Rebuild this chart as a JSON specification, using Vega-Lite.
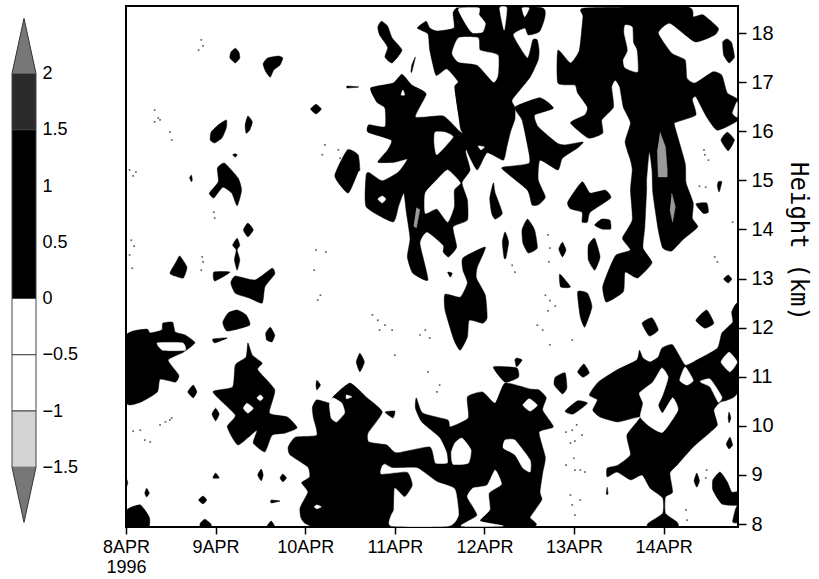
{"$schema":"https://vega.github.io/schema/vega-lite/v6.json","padding":{"left":10,"top":5,"right":0,"bottom":0},"autosize":{"type":"pad"},"background":"white","bounds":"flush","spacing":90,"config":{"view":{"stroke":null}},
"datasets":{
"black":[
{"b":1,"t":1.22,"h":17.69},{"b":1,"t":1.26,"h":17.61},{"b":1,"t":1.27,"h":17.49},{"b":1,"t":1.22,"h":17.39},{"b":1,"t":1.16,"h":17.49},{"b":1,"t":1.17,"h":17.61},
{"b":2,"t":1.53,"h":17.37},{"b":2,"t":1.58,"h":17.49},{"b":2,"t":1.70,"h":17.53},{"b":2,"t":1.75,"h":17.49},{"b":2,"t":1.72,"h":17.35},{"b":2,"t":1.65,"h":17.25},{"b":2,"t":1.61,"h":17.10},{"b":2,"t":1.56,"h":17.21},
{"b":3,"t":2.12,"h":16.55},{"b":3,"t":2.18,"h":16.45},{"b":3,"t":2.12,"h":16.35},{"b":3,"t":2.06,"h":16.45},
{"b":4,"t":1.12,"h":16.23},{"b":4,"t":1.12,"h":16.07},{"b":4,"t":1.07,"h":15.86},{"b":4,"t":0.99,"h":15.76},{"b":4,"t":0.94,"h":15.82},{"b":4,"t":0.95,"h":15.98},{"b":4,"t":1.03,"h":16.13},
{"b":5,"t":1.36,"h":16.31},{"b":5,"t":1.41,"h":16.19},{"b":5,"t":1.38,"h":16.02},{"b":5,"t":1.34,"h":15.96},{"b":5,"t":1.33,"h":16.13},
{"b":6,"t":2.85,"h":18.24},{"b":6,"t":2.92,"h":18.14},{"b":6,"t":2.97,"h":17.90},{"b":6,"t":3.08,"h":17.65},{"b":6,"t":2.97,"h":17.39},{"b":6,"t":2.89,"h":17.51},{"b":6,"t":2.92,"h":17.71},{"b":6,"t":2.83,"h":17.96},{"b":6,"t":2.81,"h":18.12},
{"b":7,"t":3.08,"h":17.16},{"b":7,"t":3.19,"h":16.94},{"b":7,"t":3.35,"h":16.76},{"b":7,"t":3.23,"h":16.29},{"b":7,"t":3.54,"h":16.31},{"b":7,"t":3.71,"h":16.02},{"b":7,"t":3.84,"h":15.82},{"b":7,"t":3.79,"h":15.58},{"b":7,"t":3.84,"h":15.21},{"b":7,"t":3.75,"h":14.95},{"b":7,"t":3.81,"h":14.60},{"b":7,"t":3.81,"h":14.19},{"b":7,"t":3.65,"h":14.05},{"b":7,"t":3.69,"h":13.64},{"b":7,"t":3.60,"h":13.44},{"b":7,"t":3.54,"h":13.54},{"b":7,"t":3.54,"h":13.68},{"b":7,"t":3.36,"h":13.95},{"b":7,"t":3.28,"h":13.72},{"b":7,"t":3.37,"h":12.97},{"b":7,"t":3.20,"h":13.11},{"b":7,"t":3.14,"h":13.44},{"b":7,"t":3.17,"h":13.82},{"b":7,"t":3.13,"h":14.33},{"b":7,"t":3.10,"h":14.74},{"b":7,"t":3.04,"h":14.46},{"b":7,"t":2.98,"h":14.15},{"b":7,"t":2.68,"h":14.46},{"b":7,"t":2.68,"h":15.11},{"b":7,"t":2.72,"h":15.15},{"b":7,"t":2.86,"h":14.99},{"b":7,"t":3.04,"h":15.17},{"b":7,"t":3.14,"h":15.43},{"b":7,"t":3.00,"h":15.37},{"b":7,"t":2.81,"h":15.37},{"b":7,"t":2.92,"h":15.62},{"b":7,"t":2.96,"h":15.82},{"b":7,"t":2.70,"h":15.98},{"b":7,"t":2.71,"h":16.13},{"b":7,"t":2.89,"h":16.09},{"b":7,"t":2.89,"h":16.47},{"b":7,"t":2.80,"h":16.59},{"b":7,"t":2.73,"h":16.88},{"b":7,"t":2.98,"h":16.98},
{"b":8,"t":3.71,"h":18.51},{"b":8,"t":3.65,"h":18.41},{"b":8,"t":3.66,"h":18.10},{"b":8,"t":3.47,"h":18.04},{"b":8,"t":3.39,"h":18.10},{"b":8,"t":3.35,"h":18.24},{"b":8,"t":3.25,"h":18.10},{"b":8,"t":3.37,"h":17.98},{"b":8,"t":3.39,"h":17.65},{"b":8,"t":3.46,"h":17.14},{"b":8,"t":3.58,"h":17.27},{"b":8,"t":3.71,"h":17.00},{"b":8,"t":3.67,"h":16.90},{"b":8,"t":3.71,"h":16.37},{"b":8,"t":3.75,"h":16.00},{"b":8,"t":3.95,"h":16.64},{"b":8,"t":3.95,"h":18.06},
{"b":9,"t":3.71,"h":18.51},{"b":9,"t":4.65,"h":18.51},{"b":9,"t":4.62,"h":18.04},{"b":9,"t":4.49,"h":17.96},{"b":9,"t":4.45,"h":18.10},{"b":9,"t":4.32,"h":17.96},{"b":9,"t":4.48,"h":17.49},{"b":9,"t":4.54,"h":17.86},{"b":9,"t":4.59,"h":17.86},{"b":9,"t":4.61,"h":17.65},{"b":9,"t":4.60,"h":17.45},{"b":9,"t":4.51,"h":17.10},{"b":9,"t":4.31,"h":16.64},{"b":9,"t":4.34,"h":16.49},{"b":9,"t":4.34,"h":16.25},{"b":9,"t":4.29,"h":15.98},{"b":9,"t":4.25,"h":15.68},{"b":9,"t":4.21,"h":15.41},{"b":9,"t":4.03,"h":15.56},{"b":9,"t":3.92,"h":15.21},{"b":9,"t":3.81,"h":15.58},{"b":9,"t":3.75,"h":16.00},{"b":9,"t":3.71,"h":16.37},{"b":9,"t":3.67,"h":16.90},{"b":9,"t":3.71,"h":17.00},{"b":9,"t":3.84,"h":17.45},{"b":9,"t":3.71,"h":18.06},
{"b":10,"t":4.34,"h":16.49},{"b":10,"t":4.62,"h":16.68},{"b":10,"t":4.77,"h":16.47},{"b":10,"t":4.56,"h":16.33},{"b":10,"t":4.60,"h":16.09},{"b":10,"t":4.81,"h":15.76},{"b":10,"t":4.90,"h":15.72},{"b":10,"t":5.10,"h":15.78},{"b":10,"t":5.04,"h":15.66},{"b":10,"t":4.87,"h":15.45},{"b":10,"t":4.82,"h":15.21},{"b":10,"t":4.62,"h":15.41},{"b":10,"t":4.60,"h":15.01},{"b":10,"t":4.68,"h":14.66},{"b":10,"t":4.60,"h":14.50},{"b":10,"t":4.53,"h":14.50},{"b":10,"t":4.48,"h":14.80},{"b":10,"t":4.21,"h":15.21},{"b":10,"t":4.21,"h":15.27},{"b":10,"t":4.50,"h":15.35},{"b":10,"t":4.48,"h":15.72},{"b":10,"t":4.42,"h":16.23},
{"b":11,"t":5.12,"h":18.51},{"b":11,"t":6.26,"h":18.53},{"b":11,"t":6.33,"h":18.33},{"b":11,"t":6.44,"h":18.37},{"b":11,"t":6.61,"h":18.10},{"b":11,"t":6.57,"h":17.96},{"b":11,"t":6.35,"h":17.82},{"b":11,"t":6.07,"h":18.20},{"b":11,"t":5.94,"h":18.00},{"b":11,"t":6.09,"h":17.59},{"b":11,"t":6.24,"h":17.45},{"b":11,"t":6.26,"h":17.08},{"b":11,"t":6.35,"h":16.98},{"b":11,"t":6.55,"h":17.21},{"b":11,"t":6.65,"h":17.14},{"b":11,"t":6.71,"h":16.78},{"b":11,"t":6.83,"h":16.64},{"b":11,"t":6.83,"h":16.23},{"b":11,"t":6.60,"h":16.02},{"b":11,"t":6.48,"h":16.29},{"b":11,"t":6.36,"h":16.70},{"b":11,"t":6.32,"h":16.64},{"b":11,"t":6.36,"h":16.33},{"b":11,"t":6.15,"h":16.19},{"b":11,"t":6.12,"h":16.13},{"b":11,"t":6.24,"h":15.35},{"b":11,"t":6.25,"h":14.95},{"b":11,"t":6.33,"h":14.54},{"b":11,"t":6.32,"h":14.23},{"b":11,"t":6.38,"h":14.05},{"b":11,"t":6.22,"h":13.80},{"b":11,"t":6.09,"h":13.56},{"b":11,"t":5.99,"h":13.62},{"b":11,"t":5.94,"h":13.99},{"b":11,"t":5.88,"h":14.74},{"b":11,"t":5.87,"h":15.21},{"b":11,"t":5.84,"h":15.58},{"b":11,"t":5.81,"h":15.01},{"b":11,"t":5.81,"h":14.80},{"b":11,"t":5.79,"h":14.05},{"b":11,"t":5.77,"h":13.62},{"b":11,"t":5.87,"h":13.32},{"b":11,"t":5.71,"h":13.01},{"b":11,"t":5.57,"h":13.13},{"b":11,"t":5.55,"h":12.73},{"b":11,"t":5.36,"h":12.52},{"b":11,"t":5.32,"h":12.83},{"b":11,"t":5.40,"h":13.23},{"b":11,"t":5.47,"h":13.48},{"b":11,"t":5.63,"h":13.58},{"b":11,"t":5.54,"h":13.82},{"b":11,"t":5.65,"h":14.19},{"b":11,"t":5.63,"h":14.80},{"b":11,"t":5.65,"h":15.21},{"b":11,"t":5.63,"h":15.41},{"b":11,"t":5.57,"h":15.78},{"b":11,"t":5.63,"h":16.17},{"b":11,"t":5.55,"h":16.49},{"b":11,"t":5.51,"h":16.90},{"b":11,"t":5.46,"h":17.04},{"b":11,"t":5.42,"h":16.90},{"b":11,"t":5.44,"h":16.49},{"b":11,"t":5.31,"h":16.23},{"b":11,"t":5.32,"h":15.96},{"b":11,"t":5.16,"h":15.86},{"b":11,"t":4.96,"h":16.17},{"b":11,"t":5.12,"h":16.33},{"b":11,"t":5.15,"h":16.49},{"b":11,"t":5.04,"h":16.78},{"b":11,"t":5.01,"h":16.94},{"b":11,"t":4.82,"h":16.98},{"b":11,"t":4.82,"h":17.65},{"b":11,"t":4.96,"h":17.39},{"b":11,"t":5.06,"h":17.65},{"b":11,"t":5.10,"h":18.33},
{"b":12,"t":6.71,"h":17.88},{"b":12,"t":6.76,"h":17.80},{"b":12,"t":6.79,"h":17.51},{"b":12,"t":6.73,"h":17.39},{"b":12,"t":6.67,"h":17.55},{"b":12,"t":6.66,"h":17.82},
{"b":13,"t":6.71,"h":15.98},{"b":13,"t":6.79,"h":15.82},{"b":13,"t":6.72,"h":15.60},{"b":13,"t":6.64,"h":15.82},
{"b":14,"t":6.61,"h":14.97},{"b":14,"t":6.65,"h":14.97},{"b":14,"t":6.62,"h":14.76},{"b":14,"t":6.60,"h":14.88},
{"b":15,"t":6.36,"h":14.52},{"b":15,"t":6.48,"h":14.54},{"b":15,"t":6.50,"h":14.35},{"b":15,"t":6.44,"h":14.33},
{"b":16,"t":4.93,"h":14.56},{"b":16,"t":5.09,"h":14.97},{"b":16,"t":5.18,"h":14.74},{"b":16,"t":5.35,"h":14.80},{"b":16,"t":5.41,"h":14.64},{"b":16,"t":5.18,"h":14.35},{"b":16,"t":5.15,"h":14.15},{"b":16,"t":5.09,"h":14.15},{"b":16,"t":5.09,"h":14.35},{"b":16,"t":4.96,"h":14.42},
{"b":17,"t":5.23,"h":14.09},{"b":17,"t":5.31,"h":14.21},{"b":17,"t":5.40,"h":14.19},{"b":17,"t":5.41,"h":14.01},{"b":17,"t":5.31,"h":14.01},
{"b":18,"t":4.42,"h":13.99},{"b":18,"t":4.48,"h":14.21},{"b":18,"t":4.56,"h":13.99},{"b":18,"t":4.59,"h":13.62},{"b":18,"t":4.49,"h":13.52},{"b":18,"t":4.43,"h":13.72},
{"b":19,"t":4.10,"h":14.95},{"b":19,"t":4.12,"h":14.74},{"b":19,"t":4.20,"h":14.33},{"b":19,"t":4.12,"h":14.21},{"b":19,"t":4.08,"h":14.33},{"b":19,"t":4.06,"h":14.64},
{"b":20,"t":4.23,"h":13.95},{"b":20,"t":4.27,"h":13.74},{"b":20,"t":4.24,"h":13.42},{"b":20,"t":4.22,"h":13.42},{"b":20,"t":4.20,"h":13.74},
{"b":21,"t":3.59,"h":13.13},{"b":21,"t":3.64,"h":13.11},{"b":21,"t":3.62,"h":13.03},
{"b":22,"t":4.87,"h":13.74},{"b":22,"t":4.91,"h":13.58},{"b":22,"t":4.87,"h":13.44},{"b":22,"t":4.83,"h":13.60},
{"b":23,"t":5.23,"h":13.82},{"b":23,"t":5.29,"h":13.44},{"b":23,"t":5.23,"h":13.17},{"b":23,"t":5.16,"h":13.38},{"b":23,"t":5.16,"h":13.68},
{"b":24,"t":4.84,"h":13.09},{"b":24,"t":4.96,"h":12.83},{"b":24,"t":4.85,"h":12.83},
{"b":25,"t":3.76,"h":13.42},{"b":25,"t":4.01,"h":13.64},{"b":25,"t":3.92,"h":13.23},{"b":25,"t":3.91,"h":13.01},{"b":25,"t":4.01,"h":12.66},{"b":25,"t":4.03,"h":12.20},{"b":25,"t":3.98,"h":12.09},{"b":25,"t":3.83,"h":12.15},{"b":25,"t":3.81,"h":11.81},{"b":25,"t":3.73,"h":11.54},{"b":25,"t":3.66,"h":11.75},{"b":25,"t":3.56,"h":12.36},{"b":25,"t":3.56,"h":12.68},{"b":25,"t":3.73,"h":12.62},{"b":25,"t":3.81,"h":12.91},{"b":25,"t":3.76,"h":13.17},
{"b":26,"t":5.04,"h":12.73},{"b":26,"t":5.15,"h":12.70},{"b":26,"t":5.20,"h":12.42},{"b":26,"t":5.12,"h":12.01},{"b":26,"t":5.07,"h":12.22},
{"b":27,"t":6.72,"h":13.07},{"b":27,"t":6.76,"h":12.99},{"b":27,"t":6.72,"h":12.91},{"b":27,"t":6.67,"h":12.99},
{"b":28,"t":5.76,"h":12.09},{"b":28,"t":5.87,"h":12.20},{"b":28,"t":5.94,"h":11.95},{"b":28,"t":5.84,"h":11.83},
{"b":29,"t":6.36,"h":12.15},{"b":29,"t":6.48,"h":12.36},{"b":29,"t":6.56,"h":12.09},{"b":29,"t":6.46,"h":11.99},
{"b":30,"t":6.83,"h":12.46},{"b":30,"t":6.76,"h":12.32},{"b":30,"t":6.77,"h":12.11},{"b":30,"t":6.65,"h":11.89},{"b":30,"t":6.60,"h":11.58},{"b":30,"t":6.37,"h":11.34},{"b":30,"t":6.24,"h":11.24},{"b":30,"t":6.10,"h":11.65},{"b":30,"t":5.98,"h":11.58},{"b":30,"t":5.94,"h":11.40},{"b":30,"t":5.85,"h":11.30},{"b":30,"t":5.77,"h":11.38},{"b":30,"t":5.73,"h":11.54},{"b":30,"t":5.70,"h":11.34},{"b":30,"t":5.48,"h":11.14},{"b":30,"t":5.27,"h":10.89},{"b":30,"t":5.17,"h":10.63},{"b":30,"t":5.26,"h":10.53},{"b":30,"t":5.21,"h":10.32},{"b":30,"t":5.29,"h":10.18},{"b":30,"t":5.49,"h":10.08},{"b":30,"t":5.74,"h":10.18},{"b":30,"t":5.59,"h":9.81},{"b":30,"t":5.63,"h":9.41},{"b":30,"t":5.49,"h":9.20},{"b":30,"t":5.37,"h":9.14},{"b":30,"t":5.37,"h":8.96},{"b":30,"t":5.48,"h":9.06},{"b":30,"t":5.63,"h":8.90},{"b":30,"t":5.76,"h":9.00},{"b":30,"t":5.85,"h":8.73},{"b":30,"t":5.99,"h":8.53},{"b":30,"t":5.99,"h":8.22},{"b":30,"t":5.83,"h":8.02},{"b":30,"t":5.83,"h":7.94},{"b":30,"t":6.15,"h":7.94},{"b":30,"t":6.15,"h":8.04},{"b":30,"t":6.02,"h":8.22},{"b":30,"t":6.02,"h":8.55},{"b":30,"t":6.10,"h":8.65},{"b":30,"t":6.07,"h":9.04},{"b":30,"t":6.15,"h":9.20},{"b":30,"t":6.33,"h":9.57},{"b":30,"t":6.52,"h":9.87},{"b":30,"t":6.60,"h":10.02},{"b":30,"t":6.56,"h":10.32},{"b":30,"t":6.63,"h":10.48},{"b":30,"t":6.72,"h":10.53},{"b":30,"t":6.83,"h":10.73},
{"b":31,"t":4.79,"h":10.99},{"b":31,"t":4.90,"h":11.08},{"b":31,"t":4.92,"h":10.77},{"b":31,"t":4.87,"h":10.65},{"b":31,"t":4.78,"h":10.83},
{"b":32,"t":5.11,"h":11.26},{"b":32,"t":5.17,"h":11.08},{"b":32,"t":5.10,"h":10.99},{"b":32,"t":5.04,"h":11.10},
{"b":33,"t":5.04,"h":10.51},{"b":33,"t":5.15,"h":10.46},{"b":33,"t":4.99,"h":10.24},{"b":33,"t":4.90,"h":10.30},
{"b":34,"t":6.73,"h":10.28},{"b":34,"t":6.75,"h":10.16},{"b":34,"t":6.73,"h":10.06},{"b":34,"t":6.72,"h":10.16},
{"b":35,"t":6.74,"h":9.77},{"b":35,"t":6.77,"h":9.61},{"b":35,"t":6.73,"h":9.53},{"b":35,"t":6.70,"h":9.63},
{"b":36,"t":6.37,"h":9.04},{"b":36,"t":6.40,"h":8.88},{"b":36,"t":6.37,"h":8.75},{"b":36,"t":6.34,"h":8.88},
{"b":37,"t":6.63,"h":9.06},{"b":37,"t":6.71,"h":8.86},{"b":37,"t":6.76,"h":8.65},{"b":37,"t":6.83,"h":8.65},{"b":37,"t":6.83,"h":8.39},{"b":37,"t":6.65,"h":8.41},{"b":37,"t":6.55,"h":8.69},{"b":37,"t":6.55,"h":8.90},
{"b":38,"t":6.80,"h":8.29},{"b":38,"t":6.83,"h":8.39},{"b":38,"t":6.83,"h":8.04},{"b":38,"t":6.77,"h":8.04},
{"b":39,"t":5.37,"h":8.75},{"b":39,"t":5.38,"h":8.61},{"b":39,"t":5.36,"h":8.61},
{"b":40,"t":4.10,"h":11.20},{"b":40,"t":4.36,"h":11.18},{"b":40,"t":4.38,"h":10.99},{"b":40,"t":4.23,"h":10.89},
{"b":41,"t":4.36,"h":11.38},{"b":41,"t":4.42,"h":11.34},{"b":41,"t":4.36,"h":11.20},{"b":41,"t":4.34,"h":11.34},
{"b":42,"t":2.13,"h":7.94},{"b":42,"t":1.94,"h":8.29},{"b":42,"t":2.03,"h":8.65},{"b":42,"t":1.96,"h":8.84},{"b":42,"t":2.05,"h":8.96},{"b":42,"t":2.03,"h":9.16},{"b":42,"t":1.83,"h":9.41},{"b":42,"t":1.81,"h":9.57},{"b":42,"t":1.89,"h":9.77},{"b":42,"t":2.13,"h":9.81},{"b":42,"t":2.09,"h":10.18},{"b":42,"t":2.08,"h":10.38},{"b":42,"t":2.13,"h":10.53},{"b":42,"t":2.28,"h":10.46},{"b":42,"t":2.31,"h":10.59},{"b":42,"t":2.50,"h":10.87},{"b":42,"t":2.69,"h":10.57},{"b":42,"t":2.86,"h":10.28},{"b":42,"t":2.70,"h":9.85},{"b":42,"t":2.71,"h":9.67},{"b":42,"t":2.91,"h":9.61},{"b":42,"t":3.02,"h":9.45},{"b":42,"t":3.39,"h":9.57},{"b":42,"t":3.45,"h":9.24},{"b":42,"t":3.59,"h":9.24},{"b":42,"t":3.58,"h":9.47},{"b":42,"t":3.50,"h":9.77},{"b":42,"t":3.30,"h":10.08},{"b":42,"t":3.23,"h":10.36},{"b":42,"t":3.24,"h":10.57},{"b":42,"t":3.31,"h":10.26},{"b":42,"t":3.59,"h":10.12},{"b":42,"t":3.62,"h":9.98},{"b":42,"t":3.82,"h":10.16},{"b":42,"t":3.81,"h":10.59},{"b":42,"t":3.98,"h":10.69},{"b":42,"t":4.12,"h":10.46},{"b":42,"t":4.23,"h":10.87},{"b":42,"t":4.51,"h":10.75},{"b":42,"t":4.61,"h":10.73},{"b":42,"t":4.69,"h":10.57},{"b":42,"t":4.65,"h":10.32},{"b":42,"t":4.77,"h":9.98},{"b":42,"t":4.61,"h":9.87},{"b":42,"t":4.68,"h":9.36},{"b":42,"t":4.65,"h":9.04},{"b":42,"t":4.62,"h":8.65},{"b":42,"t":4.64,"h":8.49},{"b":42,"t":4.51,"h":8.14},{"b":42,"t":4.49,"h":7.94},
{"b":43,"t":0.00,"h":11.83},{"b":43,"t":0.23,"h":11.97},{"b":43,"t":0.27,"h":11.89},{"b":43,"t":0.40,"h":11.95},{"b":43,"t":0.41,"h":12.09},{"b":43,"t":0.52,"h":12.11},{"b":43,"t":0.55,"h":11.91},{"b":43,"t":0.66,"h":11.85},{"b":43,"t":0.77,"h":11.69},{"b":43,"t":0.64,"h":11.50},{"b":43,"t":0.47,"h":11.34},{"b":43,"t":0.59,"h":11.03},{"b":43,"t":0.55,"h":10.89},{"b":43,"t":0.38,"h":10.95},{"b":43,"t":0.35,"h":10.69},{"b":43,"t":0.16,"h":10.48},{"b":43,"t":0.00,"h":10.48},
{"b":44,"t":0.97,"h":11.77},{"b":44,"t":1.13,"h":11.79},{"b":44,"t":0.99,"h":11.69},
{"b":45,"t":1.02,"h":15.25},{"b":45,"t":1.10,"h":15.35},{"b":45,"t":1.25,"h":15.05},{"b":45,"t":1.29,"h":14.80},{"b":45,"t":1.24,"h":14.48},{"b":45,"t":1.18,"h":14.74},{"b":45,"t":1.08,"h":14.86},{"b":45,"t":0.98,"h":14.64},{"b":45,"t":0.93,"h":14.74},{"b":45,"t":1.03,"h":14.97},
{"b":46,"t":0.73,"h":15.11},{"b":46,"t":0.74,"h":15.01},{"b":46,"t":0.73,"h":14.97},{"b":46,"t":0.71,"h":15.05},
{"b":47,"t":1.36,"h":14.13},{"b":47,"t":1.42,"h":13.99},{"b":47,"t":1.36,"h":13.85},{"b":47,"t":1.31,"h":13.99},
{"b":48,"t":1.24,"h":13.82},{"b":48,"t":1.27,"h":13.68},{"b":48,"t":1.24,"h":13.58},{"b":48,"t":1.27,"h":13.38},{"b":48,"t":1.24,"h":13.17},{"b":48,"t":1.21,"h":13.38},{"b":48,"t":1.23,"h":13.58},{"b":48,"t":1.19,"h":13.68},
{"b":49,"t":0.60,"h":13.46},{"b":49,"t":0.68,"h":13.23},{"b":49,"t":0.64,"h":13.01},{"b":49,"t":0.55,"h":13.05},{"b":49,"t":0.49,"h":13.11},{"b":49,"t":0.56,"h":13.34},
{"b":50,"t":0.98,"h":13.13},{"b":50,"t":1.16,"h":13.13},{"b":50,"t":0.99,"h":12.95},
{"b":51,"t":1.22,"h":13.05},{"b":51,"t":1.44,"h":12.97},{"b":51,"t":1.63,"h":13.21},{"b":51,"t":1.66,"h":13.09},{"b":51,"t":1.55,"h":12.83},{"b":51,"t":1.52,"h":12.50},{"b":51,"t":1.38,"h":12.60},{"b":51,"t":1.22,"h":12.70},{"b":51,"t":1.17,"h":12.91},
{"b":52,"t":1.14,"h":12.30},{"b":52,"t":1.24,"h":12.36},{"b":52,"t":1.34,"h":12.26},{"b":52,"t":1.38,"h":12.05},{"b":52,"t":1.13,"h":11.93},{"b":52,"t":1.08,"h":12.11},
{"b":53,"t":1.61,"h":12.01},{"b":53,"t":1.66,"h":11.85},{"b":53,"t":1.63,"h":11.71},{"b":53,"t":1.57,"h":11.75},{"b":53,"t":1.56,"h":11.89},
{"b":54,"t":1.36,"h":11.69},{"b":54,"t":1.41,"h":11.44},{"b":54,"t":1.52,"h":11.28},{"b":54,"t":1.47,"h":11.14},{"b":54,"t":1.66,"h":10.73},{"b":54,"t":1.60,"h":10.26},{"b":54,"t":1.80,"h":10.18},{"b":54,"t":1.91,"h":9.96},{"b":54,"t":1.77,"h":9.85},{"b":54,"t":1.63,"h":9.81},{"b":54,"t":1.55,"h":9.47},{"b":54,"t":1.42,"h":9.65},{"b":54,"t":1.46,"h":9.91},{"b":54,"t":1.25,"h":9.61},{"b":54,"t":1.13,"h":9.98},{"b":54,"t":1.22,"h":10.22},{"b":54,"t":0.97,"h":10.69},{"b":54,"t":1.19,"h":10.79},{"b":54,"t":1.22,"h":11.24},{"b":54,"t":1.34,"h":11.40},
{"b":55,"t":0.75,"h":10.83},{"b":55,"t":0.79,"h":10.69},{"b":55,"t":0.75,"h":10.57},{"b":55,"t":0.69,"h":10.69},
{"b":56,"t":1.00,"h":10.36},{"b":56,"t":1.04,"h":10.24},{"b":56,"t":1.00,"h":10.10},{"b":56,"t":0.96,"h":10.24},
{"b":57,"t":1.00,"h":9.04},{"b":57,"t":1.04,"h":8.94},{"b":57,"t":0.97,"h":8.94},
{"b":58,"t":1.51,"h":9.12},{"b":58,"t":1.53,"h":9.00},{"b":58,"t":1.51,"h":8.88},{"b":58,"t":1.47,"h":9.00},
{"b":59,"t":1.75,"h":9.02},{"b":59,"t":1.79,"h":8.94},{"b":59,"t":1.75,"h":8.86},{"b":59,"t":1.72,"h":8.94},
{"b":60,"t":0.23,"h":8.73},{"b":60,"t":0.26,"h":8.63},{"b":60,"t":0.23,"h":8.55},{"b":60,"t":0.21,"h":8.63},
{"b":61,"t":0.86,"h":8.57},{"b":61,"t":0.90,"h":8.49},{"b":61,"t":0.86,"h":8.41},{"b":61,"t":0.81,"h":8.49},
{"b":62,"t":1.62,"h":8.49},{"b":62,"t":1.72,"h":8.47},{"b":62,"t":1.62,"h":8.43},
{"b":63,"t":0.01,"h":8.29},{"b":63,"t":0.16,"h":8.39},{"b":63,"t":0.26,"h":8.14},{"b":63,"t":0.25,"h":7.94},{"b":63,"t":0.01,"h":7.94},
{"b":64,"t":0.88,"h":8.10},{"b":64,"t":0.95,"h":8.00},{"b":64,"t":0.94,"h":7.94},{"b":64,"t":0.83,"h":7.94},{"b":64,"t":0.83,"h":8.02},
{"b":65,"t":1.62,"h":8.06},{"b":65,"t":1.66,"h":7.94},{"b":65,"t":1.57,"h":7.94},
{"b":66,"t":0.00,"h":8.94},{"b":66,"t":0.02,"h":8.84},{"b":66,"t":0.00,"h":8.73},
{"b":67,"t":2.33,"h":15.09},{"b":67,"t":2.47,"h":15.62},{"b":67,"t":2.59,"h":15.52},{"b":67,"t":2.61,"h":15.21},{"b":67,"t":2.59,"h":15.17},{"b":67,"t":2.48,"h":14.74},
{"b":68,"t":3.23,"h":17.51},{"b":68,"t":3.19,"h":17.21},{"b":68,"t":3.18,"h":17.21},{"b":68,"t":3.19,"h":17.35},
{"b":69,"t":1.22,"h":15.54},{"b":69,"t":1.24,"h":15.52},{"b":69,"t":1.22,"h":15.47},{"b":69,"t":1.19,"h":15.52},
{"b":70,"t":2.47,"h":16.92},{"b":70,"t":2.60,"h":16.90},{"b":70,"t":2.47,"h":16.88},
{"b":71,"t":2.89,"h":10.28},{"b":71,"t":3.00,"h":10.30},{"b":71,"t":2.98,"h":10.16},
{"b":72,"t":2.61,"h":11.48},{"b":72,"t":2.66,"h":11.30},{"b":72,"t":2.61,"h":11.10},{"b":72,"t":2.57,"h":11.30},
{"b":73,"t":2.13,"h":10.93},{"b":73,"t":2.17,"h":10.83},{"b":73,"t":2.13,"h":10.73},{"b":73,"t":2.12,"h":10.83}
],
"white":[
{"b":1,"t":3.64,"h":17.59},{"b":1,"t":3.71,"h":17.90},{"b":1,"t":3.93,"h":17.90},{"b":1,"t":3.95,"h":17.65},{"b":1,"t":4.15,"h":17.55},{"b":1,"t":4.15,"h":17.14},{"b":1,"t":4.10,"h":17.00},{"b":1,"t":3.92,"h":17.35},{"b":1,"t":3.71,"h":17.41},
{"b":2,"t":3.71,"h":18.49},{"b":2,"t":3.82,"h":18.10},{"b":2,"t":3.87,"h":18.00},{"b":2,"t":3.98,"h":18.02},{"b":2,"t":4.01,"h":18.20},{"b":2,"t":3.94,"h":18.37},{"b":2,"t":3.94,"h":18.51},
{"b":3,"t":4.17,"h":18.51},{"b":3,"t":4.25,"h":18.51},{"b":3,"t":4.22,"h":18.06},
{"b":4,"t":4.42,"h":18.51},{"b":4,"t":4.50,"h":18.51},{"b":4,"t":4.45,"h":18.33},
{"b":5,"t":3.45,"h":15.98},{"b":5,"t":3.56,"h":15.98},{"b":5,"t":3.65,"h":15.88},{"b":5,"t":3.47,"h":15.52},{"b":5,"t":3.44,"h":15.78},
{"b":6,"t":3.34,"h":14.33},{"b":6,"t":3.47,"h":14.42},{"b":6,"t":3.59,"h":14.15},{"b":6,"t":3.66,"h":14.46},{"b":6,"t":3.66,"h":14.80},{"b":6,"t":3.73,"h":14.95},{"b":6,"t":3.59,"h":15.21},{"b":6,"t":3.47,"h":15.01},{"b":6,"t":3.34,"h":14.74},
{"b":7,"t":3.09,"h":16.84},{"b":7,"t":3.11,"h":16.74},{"b":7,"t":3.07,"h":16.74},
{"b":8,"t":2.86,"h":14.68},{"b":8,"t":2.90,"h":14.62},{"b":8,"t":2.86,"h":14.54},{"b":8,"t":2.81,"h":14.62},
{"b":9,"t":3.93,"h":15.70},{"b":9,"t":4.00,"h":15.68},{"b":9,"t":3.96,"h":15.62},
{"b":10,"t":5.57,"h":18.16},{"b":10,"t":5.65,"h":18.12},{"b":10,"t":5.66,"h":17.80},{"b":10,"t":5.70,"h":17.65},{"b":10,"t":5.71,"h":17.21},{"b":10,"t":5.57,"h":17.29},{"b":10,"t":5.55,"h":17.45},{"b":10,"t":5.60,"h":17.65},{"b":10,"t":5.56,"h":18.00},
{"b":11,"t":6.82,"h":16.60},{"b":11,"t":6.77,"h":16.37},{"b":11,"t":6.82,"h":16.29},
{"b":12,"t":6.73,"h":11.50},{"b":12,"t":6.82,"h":11.30},{"b":12,"t":6.74,"h":11.10},{"b":12,"t":6.64,"h":11.30},
{"b":13,"t":6.24,"h":11.20},{"b":13,"t":6.33,"h":10.93},{"b":13,"t":6.26,"h":10.83},{"b":13,"t":6.18,"h":10.93},
{"b":14,"t":5.98,"h":11.18},{"b":14,"t":6.05,"h":10.99},{"b":14,"t":5.99,"h":10.63},{"b":14,"t":5.94,"h":10.42},{"b":14,"t":5.99,"h":10.26},{"b":14,"t":6.10,"h":10.57},{"b":14,"t":6.16,"h":10.32},{"b":14,"t":5.99,"h":9.87},{"b":14,"t":5.85,"h":9.98},{"b":14,"t":5.74,"h":10.18},{"b":14,"t":5.77,"h":10.46},{"b":14,"t":5.73,"h":10.67},{"b":14,"t":5.88,"h":10.89},
{"b":15,"t":6.41,"h":10.91},{"b":15,"t":6.52,"h":10.95},{"b":15,"t":6.65,"h":10.59},{"b":15,"t":6.61,"h":10.48},{"b":15,"t":6.52,"h":10.79},{"b":15,"t":6.43,"h":10.87},
{"b":16,"t":3.75,"h":9.75},{"b":16,"t":3.85,"h":9.51},{"b":16,"t":3.82,"h":9.24},{"b":16,"t":3.65,"h":9.22},{"b":16,"t":3.63,"h":9.45},{"b":16,"t":3.67,"h":9.65},
{"b":17,"t":4.23,"h":9.71},{"b":17,"t":4.34,"h":9.71},{"b":17,"t":4.51,"h":9.30},{"b":17,"t":4.51,"h":9.06},{"b":17,"t":4.43,"h":9.14},{"b":17,"t":4.34,"h":9.41},{"b":17,"t":4.21,"h":9.55},
{"b":18,"t":4.50,"h":10.55},{"b":18,"t":4.59,"h":10.42},{"b":18,"t":4.51,"h":10.30},{"b":18,"t":4.43,"h":10.42},
{"b":19,"t":2.86,"h":9.18},{"b":19,"t":2.89,"h":9.22},{"b":19,"t":2.98,"h":9.14},{"b":19,"t":3.25,"h":9.14},{"b":19,"t":3.47,"h":8.86},{"b":19,"t":3.67,"h":8.71},{"b":19,"t":3.71,"h":8.18},{"b":19,"t":3.60,"h":7.96},{"b":19,"t":2.96,"h":7.96},{"b":19,"t":2.96,"h":8.18},{"b":19,"t":2.99,"h":8.29},{"b":19,"t":3.00,"h":8.73},{"b":19,"t":3.11,"h":8.55},{"b":19,"t":3.20,"h":8.79},{"b":19,"t":3.14,"h":9.06},{"b":19,"t":2.85,"h":9.02},
{"b":20,"t":4.12,"h":9.10},{"b":20,"t":4.19,"h":8.81},{"b":20,"t":4.05,"h":8.63},{"b":20,"t":4.06,"h":8.29},{"b":20,"t":3.95,"h":8.06},{"b":20,"t":4.21,"h":7.96},{"b":20,"t":3.74,"h":7.96},{"b":20,"t":3.92,"h":8.18},{"b":20,"t":3.81,"h":8.55},{"b":20,"t":3.87,"h":8.73},{"b":20,"t":4.03,"h":8.79},
{"b":21,"t":0.35,"h":11.69},{"b":21,"t":0.63,"h":11.69},{"b":21,"t":0.66,"h":11.54},{"b":21,"t":0.41,"h":11.54},
{"b":22,"t":1.50,"h":10.63},{"b":22,"t":1.53,"h":10.57},{"b":22,"t":1.50,"h":10.51},{"b":22,"t":1.46,"h":10.57},
{"b":23,"t":1.35,"h":10.46},{"b":23,"t":1.42,"h":10.36},{"b":23,"t":1.36,"h":10.26},{"b":23,"t":1.31,"h":10.36},
{"b":24,"t":2.46,"h":10.63},{"b":24,"t":2.52,"h":10.59},{"b":24,"t":2.46,"h":10.55},
{"b":25,"t":2.27,"h":10.44},{"b":25,"t":2.31,"h":10.57},{"b":25,"t":2.41,"h":10.46},{"b":25,"t":2.44,"h":10.26},{"b":25,"t":2.35,"h":10.08},{"b":25,"t":2.29,"h":10.16},
{"b":26,"t":2.10,"h":8.35},{"b":26,"t":2.13,"h":8.39},{"b":26,"t":2.18,"h":8.35},{"b":26,"t":2.13,"h":8.31}
],
"gray":[
{"b":1,"t":5.96,"h":15.98},{"b":1,"t":6.02,"h":15.68},{"b":1,"t":6.04,"h":15.21},{"b":1,"t":6.04,"h":15.07},{"b":1,"t":5.94,"h":15.07},{"b":1,"t":5.93,"h":15.62},
{"b":2,"t":6.09,"h":14.74},{"b":2,"t":6.13,"h":14.46},{"b":2,"t":6.10,"h":14.15},{"b":2,"t":6.07,"h":14.40},
{"b":3,"t":3.24,"h":14.44},{"b":3,"t":3.28,"h":14.40},{"b":3,"t":3.24,"h":14.03},{"b":3,"t":3.21,"h":14.07}
],
"dots":[
{"t":0.84,"h":17.86},{"t":0.86,"h":17.74},{"t":0.81,"h":17.65},{"t":0.32,"h":16.43},{"t":0.36,"h":16.27},{"t":0.32,"h":16.19},{"t":0.38,"h":16.23},{"t":0.49,"h":15.98},{"t":0.51,"h":15.82},{"t":0.04,"h":15.21},{"t":0.08,"h":15.09},{"t":0.11,"h":15.17},{"t":0.06,"h":13.78},{"t":0.09,"h":13.66},{"t":0.04,"h":13.48},{"t":0.07,"h":13.21},{"t":0.98,"h":14.35},{"t":0.99,"h":14.23},{"t":0.85,"h":13.44},{"t":0.84,"h":13.17},{"t":0.86,"h":13.34},{"t":2.22,"h":15.72},{"t":2.19,"h":15.52},{"t":2.37,"h":15.62},{"t":2.39,"h":15.45},{"t":2.23,"h":13.54},{"t":2.12,"h":13.58},{"t":2.10,"h":13.17},{"t":2.14,"h":12.56},{"t":2.17,"h":12.66},{"t":2.75,"h":12.26},{"t":2.81,"h":12.15},{"t":2.89,"h":12.05},{"t":2.97,"h":11.95},{"t":2.83,"h":11.95},{"t":3.34,"h":11.95},{"t":3.39,"h":11.79},{"t":3.28,"h":11.85},{"t":3.00,"h":11.44},{"t":3.37,"h":11.10},{"t":3.50,"h":10.83},{"t":3.47,"h":10.69},{"t":4.31,"h":13.27},{"t":4.34,"h":13.13},{"t":4.68,"h":12.66},{"t":4.73,"h":12.55},{"t":4.79,"h":12.44},{"t":4.71,"h":12.34},{"t":4.59,"h":12.05},{"t":4.65,"h":11.95},{"t":4.73,"h":11.65},{"t":4.98,"h":11.75},{"t":4.71,"h":13.89},{"t":4.73,"h":13.62},{"t":4.72,"h":13.34},{"t":6.47,"h":14.86},{"t":6.40,"h":14.88},{"t":6.77,"h":14.15},{"t":6.57,"h":13.44},{"t":6.60,"h":13.34},{"t":6.46,"h":15.52},{"t":6.50,"h":15.41},{"t":6.45,"h":15.62},{"t":4.98,"h":9.91},{"t":5.03,"h":10.02},{"t":4.91,"h":9.87},{"t":5.09,"h":9.81},{"t":4.96,"h":9.65},{"t":5.01,"h":9.69},{"t":5.00,"h":9.34},{"t":4.91,"h":9.20},{"t":5.07,"h":9.10},{"t":5.12,"h":9.06},{"t":5.01,"h":9.10},{"t":4.98,"h":8.39},{"t":5.01,"h":8.18},{"t":5.07,"h":8.49},{"t":4.96,"h":8.59},{"t":0.49,"h":10.12},{"t":0.44,"h":10.08},{"t":0.38,"h":10.02},{"t":0.16,"h":9.91},{"t":0.21,"h":9.71},{"t":0.27,"h":9.67},{"t":0.51,"h":10.16},{"t":0.08,"h":9.89},{"t":3.26,"h":8.43},{"t":3.34,"h":8.39},{"t":3.28,"h":8.53},{"t":6.25,"h":8.29},{"t":6.26,"h":8.08},{"t":6.48,"h":9.10},{"t":6.47,"h":8.94}
],
"bar":[{"lo":1.5,"hi":2,"band":"a"},{"lo":0,"hi":1.5,"band":"b"},{"lo":-0.5,"hi":0,"band":"c"},{"lo":-1,"hi":-0.5,"band":"d"},{"lo":-1.5,"hi":-1,"band":"e"}],
"tips":[{"b":"top","x":0,"v":2},{"b":"top","x":0.5,"v":2.49},{"b":"top","x":1,"v":2},{"b":"bot","x":0,"v":-1.5},{"b":"bot","x":0.5,"v":-1.99},{"b":"bot","x":1,"v":-1.5}]
},
"hconcat":[
{"width":24,"height":521,"layer":[
{"data":{"name":"bar"},"mark":{"type":"rect","stroke":"#444","strokeWidth":1},"encoding":{"y":{"field":"lo","type":"quantitative","scale":{"domain":[-2.031,2.6],"nice":false,"zero":false},"axis":{"orient":"right","values":[2,1.5,1,0.5,0,-0.5,-1,-1.5],"format":"~g","ticks":false,"domain":false,"grid":false,"title":null,"labelFont":"Liberation Sans","labelFontSize":18,"labelColor":"#000","labelPadding":6,"labelFlush":false}},"y2":{"field":"hi"},"fill":{"field":"band","type":"nominal","legend":null,"scale":{"domain":["a","b","c","d","e"],"range":["#2a2a2a","#000000","#ffffff","#ffffff","#d4d4d4"]}}}},
{"data":{"name":"tips"},"transform":[{"window":[{"op":"row_number","as":"i"}]}],"mark":{"type":"line","fill":"#777","stroke":"#333","strokeWidth":1},"encoding":{"x":{"field":"x","type":"quantitative","scale":{"domain":[0,1],"nice":false},"axis":null},"y":{"field":"v","type":"quantitative"},"detail":{"field":"b"},"order":{"field":"i","type":"quantitative"}}}
]},
{"width":612,"height":521,"view":{"stroke":"#000","strokeWidth":2},
"encoding":{"x":{"field":"t","type":"quantitative","scale":{"domain":[0,6.83],"nice":false,"zero":false},"axis":{"values":[0,1,2,3,4,5,6],"title":null,"grid":false,"domain":false,"tickSize":7,"tickColor":"#000","tickWidth":1.5,"labelFont":"Liberation Sans","labelFontSize":18,"labelColor":"#000","labelPadding":4,"labelLineHeight":20,"labelFlush":false,"labelBound":false,"labelOverlap":false,"labelExpr":"datum.value==0?['8APR','1996']:(8+datum.value)+'APR'"}},"y":{"field":"h","type":"quantitative","scale":{"domain":[7.94,18.55],"nice":false,"zero":false},"axis":{"orient":"right","values":[8,9,10,11,12,13,14,15,16,17,18],"grid":false,"domain":false,"tickSize":8,"tickColor":"#000","tickWidth":1.5,"labelFont":"Liberation Sans","labelFontSize":20,"labelColor":"#000","labelPadding":5,"title":"Height  (km)","titleAngle":90,"titleY":235,"titleFont":"DejaVu Sans Mono","titleFontSize":24,"titleFontWeight":"normal","titleColor":"#000","titlePadding":12}}},
"layer":[
{"data":{"name":"dots"},"mark":{"type":"square","color":"#666","size":3,"opacity":1}},
{"data":{"name":"black"},"transform":[{"window":[{"op":"row_number","as":"i"}]}],"mark":{"type":"line","clip":true,"interpolate":"cardinal-closed","tension":0.5,"fill":"#000","stroke":"#000","strokeWidth":0.5},"encoding":{"detail":{"field":"b"},"order":{"field":"i","type":"quantitative"}}},
{"data":{"name":"white"},"transform":[{"window":[{"op":"row_number","as":"i"}]}],"mark":{"type":"line","clip":true,"interpolate":"cardinal-closed","tension":0.5,"fill":"#fff","stroke":"#fff","strokeWidth":0.5},"encoding":{"detail":{"field":"b"},"order":{"field":"i","type":"quantitative"}}},
{"data":{"name":"gray"},"transform":[{"window":[{"op":"row_number","as":"i"}]}],"mark":{"type":"line","fill":"#999","stroke":"#999","strokeWidth":0.5},"encoding":{"detail":{"field":"b"},"order":{"field":"i","type":"quantitative"}}}
]}
]}
